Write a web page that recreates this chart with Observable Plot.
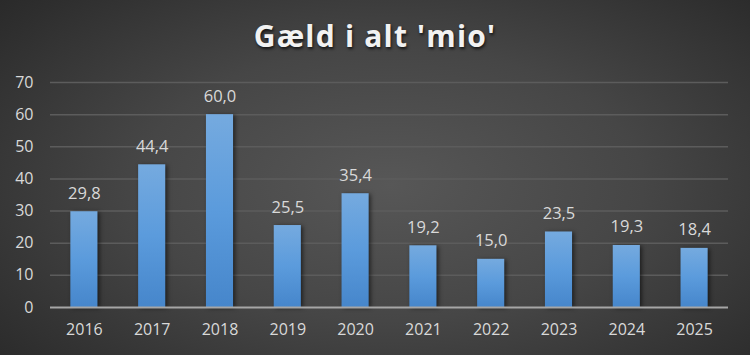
<!DOCTYPE html>
<html>
<head>
<meta charset="utf-8">
<script src="https://cdn.jsdelivr.net/npm/d3@7"></script>
<script src="https://cdn.jsdelivr.net/npm/@observablehq/plot@0.6"></script>
<style>
  html, body { margin: 0; padding: 0; background: #262626; }
  #chart {
    position: relative; width: 750px; height: 355px; overflow: hidden;
    background: radial-gradient(ellipse 75% 85% at 52% 52%, #575757 0%, #464646 45%, #2e2e2e 85%, #262626 100%);
    font-family: "Open Sans", sans-serif;
  }
  #title {
    position: absolute; left: 0; right: 0; top: 15px; text-align: center;
    color: #f2f2f2; font-weight: bold; font-size: 30px; letter-spacing: 1.2px;
    text-shadow: 1px 2px 3px rgba(0,0,0,0.7);
  }
  #chart svg { position: absolute; left: 0; top: 0; }
</style>
</head>
<body>
<div id="chart"><div id="title">Gæld i alt 'mio'</div></div>
<script>
const years = ["2016","2017","2018","2019","2020","2021","2022","2023","2024","2025"];
const values = [29.8, 44.4, 60.0, 25.5, 35.4, 19.2, 15.0, 23.5, 19.3, 18.4];
const yTicks = [0, 10, 20, 30, 40, 50, 60, 70];

const data = years.map((y, i) => ({year: y, value: values[i]}));
const fmt = v => v.toFixed(1).replace(".", ",");

const plot = Plot.plot({
  width: 750,
  height: 355,
  marginTop: 82,
  marginBottom: 48,
  marginLeft: 50,
  marginRight: 22,
  style: {background: "transparent", color: "#d9d9d9", fontFamily: "Open Sans", fontSize: "16px"},
  x: {domain: years, paddingInner: 0.6, paddingOuter: 0.3, round: false, label: null, axis: null},
  y: {domain: [0, 70], label: null, axis: null},
  marks: [
    Plot.ruleY(yTicks.filter(t => t > 0), {stroke: "#5c5c5c", strokeWidth: 1.5}),
    Plot.barY(data, {x: "year", y: "value", fill: "url(#barGrad)"}),
    Plot.ruleY([0], {stroke: "#a6a6a6", strokeWidth: 2}),
    Plot.axisX({tickSize: 0, tickPadding: 16, fontSize: 16, fill: "#d9d9d9", label: null}),
    Plot.axisY({ticks: yTicks, tickSize: 0, tickPadding: 17, fontSize: 16, fill: "#d9d9d9", label: null}),
    Plot.text(data, {x: "year", y: "value", text: d => fmt(d.value), lineAnchor: "bottom", dy: -13, fill: "#d9d9d9", fontSize: 16.5})
  ]
});

const svg = d3.select(plot);
const defs = svg.insert("defs", ":first-child");
const g = defs.append("linearGradient").attr("id", "barGrad").attr("x1", 0).attr("y1", 0).attr("x2", 0).attr("y2", 1);
g.append("stop").attr("offset", "0%").attr("stop-color", "#75aadf");
g.append("stop").attr("offset", "50%").attr("stop-color", "#5b9bdc");
g.append("stop").attr("offset", "100%").attr("stop-color", "#4686cb");
svg.selectAll("g[aria-label='bar']").style("filter", "drop-shadow(2px 1px 2px rgba(0,0,0,0.55))");

document.getElementById("chart").appendChild(plot);
</script>
</body>
</html>
